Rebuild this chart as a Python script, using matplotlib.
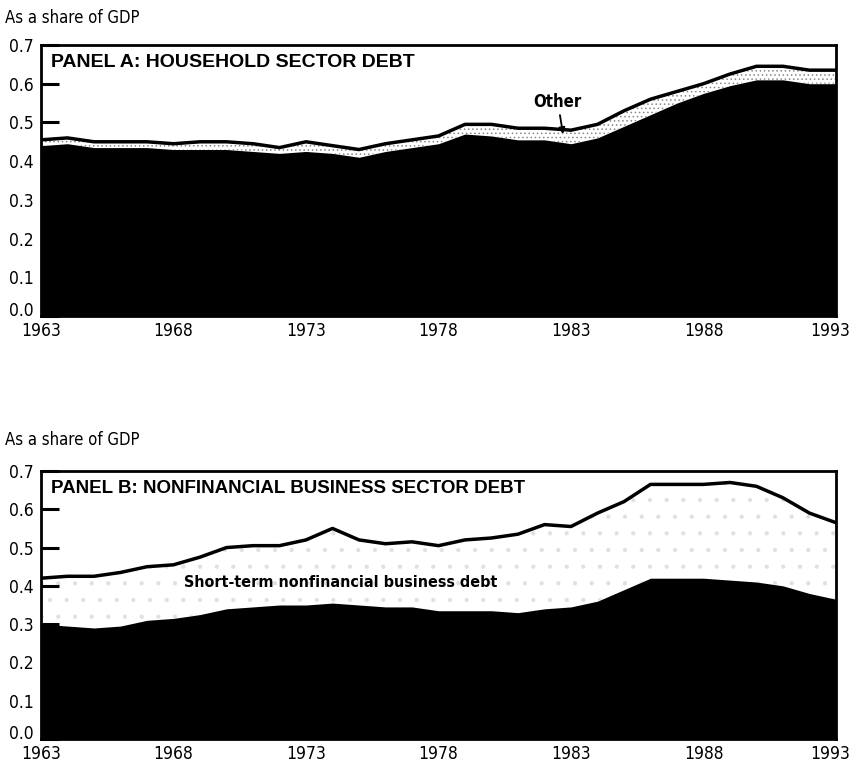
import matplotlib
matplotlib.use("Agg")
import matplotlib.pyplot as plt
from matplotlib.transforms import ScaledTranslation

years = list(range(1963, 1994))

# Panel A: household sector debt (share of GDP)
hh_total = [0.455, 0.46, 0.45, 0.45, 0.45, 0.445, 0.45, 0.45, 0.445, 0.435, 0.45,
            0.44, 0.43, 0.445, 0.455, 0.465, 0.495, 0.495, 0.485, 0.485, 0.48,
            0.495, 0.53, 0.56, 0.58, 0.60, 0.625, 0.645, 0.645, 0.635, 0.635]
hh_main = [0.44, 0.445, 0.435, 0.435, 0.435, 0.43, 0.43, 0.43, 0.425, 0.42, 0.425,
           0.42, 0.41, 0.425, 0.435, 0.445, 0.47, 0.465, 0.455, 0.455, 0.445,
           0.46, 0.49, 0.52, 0.55, 0.575, 0.595, 0.61, 0.61, 0.60, 0.60]

# Panel B: nonfinancial business sector debt (share of GDP)
biz_total = [0.42, 0.425, 0.425, 0.435, 0.45, 0.455, 0.475, 0.50, 0.505, 0.505, 0.52,
             0.55, 0.52, 0.51, 0.515, 0.505, 0.52, 0.525, 0.535, 0.56, 0.555,
             0.59, 0.62, 0.665, 0.665, 0.665, 0.67, 0.66, 0.63, 0.59, 0.565]
biz_long = [0.30, 0.295, 0.29, 0.295, 0.31, 0.315, 0.325, 0.34, 0.345, 0.35, 0.35,
            0.355, 0.35, 0.345, 0.345, 0.335, 0.335, 0.335, 0.33, 0.34, 0.345,
            0.36, 0.39, 0.42, 0.42, 0.42, 0.415, 0.41, 0.40, 0.38, 0.365]

yticks = [0.0, 0.1, 0.2, 0.3, 0.4, 0.5, 0.6, 0.7]
xticks = [1963, 1968, 1973, 1978, 1983, 1988, 1993]
ylabel = "As a share of GDP"
titles = ["PANEL A: HOUSEHOLD SECTOR DEBT", "PANEL B: NONFINANCIAL BUSINESS SECTOR DEBT"]

plt.rcParams['font.family'] = ['DejaVu Sans']
plt.rcParams['font.stretch'] = 'condensed'
plt.rcParams['hatch.linewidth'] = 0.6

W, H = 854, 767
fig = plt.figure(figsize=(W / 100, H / 100), dpi=100)

def make_axes(top_px, bot_px):
    l, r = 41 / W, 836 / W
    return fig.add_axes([l, 1 - bot_px / H, r - l, (bot_px - top_px) / H])

axA = make_axes(45, 316)
axB = make_axes(471, 739)

def style(ax, title, tsize):
    ax.set_xlim(1963, 1993)
    ax.set_ylim(0, 0.7)
    ax.set_yticks(yticks)
    ax.set_yticklabels([f"{v:.1f}" for v in yticks], fontsize=12.5, stretch='condensed')
    ax.set_xticks(xticks)
    ax.set_xticklabels([str(x) for x in xticks], fontsize=12.5, stretch='condensed')
    ax.tick_params(axis='y', direction='in', length=13, width=2.2, pad=5)
    ax.tick_params(axis='x', length=0, pad=4)
    ax.get_yticklabels()[0].set_va('baseline')
    last = ax.get_xticklabels()[-1]
    last.set_ha('right')
    last.set_transform(last.get_transform() + ScaledTranslation(14 / 100, 0, fig.dpi_scale_trans))
    for s in ax.spines.values():
        s.set_linewidth(2)
    ax.text(0.012, 0.965, title, transform=ax.transAxes, fontsize=tsize,
            fontweight='bold', family=['Liberation Sans', 'DejaVu Sans'],
            va='top', ha='left')

# Panel A
axA.fill_between(years, hh_main, hh_total, facecolor='white', edgecolor='#888888',
                 hatch='....', linewidth=0)
axA.fill_between(years, 0, hh_main, color='black', linewidth=0)
axA.plot(years, hh_total, color='black', lw=2.5)
style(axA, titles[0], 14)
axA.annotate("Other", xy=(1982.7, 0.47), xytext=(1982.5, 0.553),
             ha='center', va='center', fontsize=12, fontweight='bold',
             arrowprops=dict(arrowstyle='-|>', color='black', lw=1.3,
                             mutation_scale=9, shrinkA=1, shrinkB=0))
fig.text(5 / W, 1 - 18 / H, ylabel, fontsize=12, va='center', ha='left')

# Panel B
axB.fill_between(years, biz_long, biz_total, facecolor='white', edgecolor='#e0e0e0',
                 hatch='.', linewidth=0)
axB.fill_between(years, 0, biz_long, color='black', linewidth=0)
axB.plot(years, biz_total, color='black', lw=2.5)
style(axB, titles[1], 13.5)
axB.text(1974.3, 0.41, "Short-term nonfinancial business debt", ha='center',
         va='center', fontsize=11.5, fontweight='bold')
fig.text(5 / W, 1 - 440 / H, ylabel, fontsize=12, va='center', ha='left')

fig.savefig("out.png", dpi=100, facecolor='white')
